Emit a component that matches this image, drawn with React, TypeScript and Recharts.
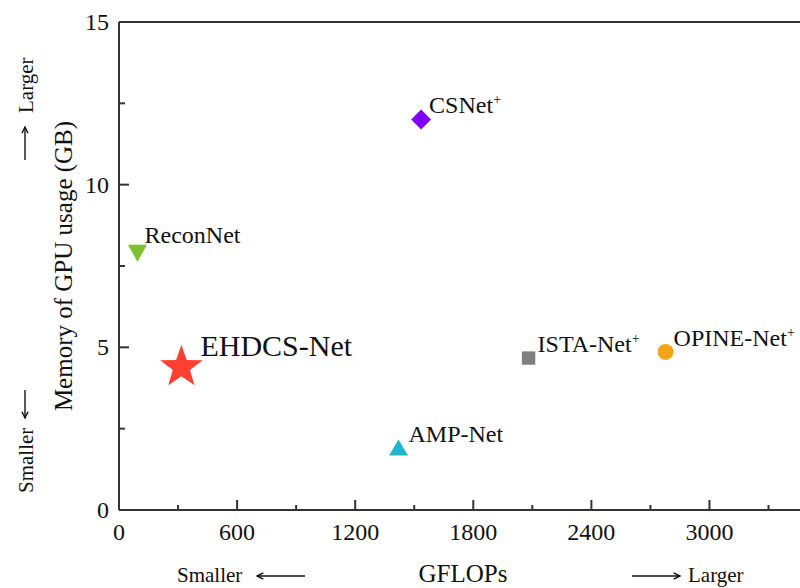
import { ScatterChart, Scatter, XAxis, YAxis, ReferenceLine, Customized } from "recharts"

// values
const models = ["ReconNet", "CSNet", "AMP-Net", "ISTA-Net", "OPINE-Net", "EHDCS-Net"]
const gflops = [94, 1535, 1420, 2081, 2777, 317]
const memoryGB = [7.89, 12.0, 1.92, 4.67, 4.86, 4.45]
const hasPlus = [false, true, false, true, true, false]

const xTicks = [0, 300, 600, 900, 1200, 1500, 1800, 2100, 2400, 2700, 3000, 3300]
const yTicks = [0, 2.5, 5, 7.5, 10, 12.5, 15]

const data = models.map((name, i) => ({ name, x: gflops[i], y: memoryGB[i], plus: hasPlus[i] }))

const FONT = "'Liberation Serif', 'Times New Roman', serif"
const AXIS = "#333"

// marker look + where the label sits relative to the marker
const markerStyle: Record<string, { kind: string; color: string; dx: number; dy: number; fs: number }> = {
  ReconNet: { kind: "triDown", color: "#7dc22e", dx: 7, dy: -10, fs: 24 },
  CSNet: { kind: "diamond", color: "#8000ff", dx: 8, dy: -7, fs: 24 },
  "AMP-Net": { kind: "triUp", color: "#1fb6cc", dx: 10, dy: -6, fs: 24 },
  "ISTA-Net": { kind: "square", color: "#808080", dx: 9, dy: -6, fs: 24 },
  "OPINE-Net": { kind: "circle", color: "#f5a418", dx: 8, dy: -6, fs: 24 },
  "EHDCS-Net": { kind: "star", color: "#ff4030", dx: 19, dy: -9, fs: 30 },
}

const starPath = (cx: number, cy: number, R: number, r: number) => {
  let d = ""
  for (let k = 0; k < 10; k++) {
    const rad = k % 2 === 0 ? R : r
    const a = -Math.PI / 2 + (k * Math.PI) / 5
    d += (k === 0 ? "M" : "L") + (cx + rad * Math.cos(a)).toFixed(2) + "," + (cy + rad * Math.sin(a)).toFixed(2)
  }
  return d + "Z"
}

const PointShape = (props: any) => {
  const { cx, cy, payload } = props
  const s = markerStyle[payload.name]
  let mark = null
  if (s.kind === "star") mark = <path d={starPath(cx, cy + 2, 22.4, 9)} fill={s.color} />
  else if (s.kind === "diamond") mark = <path d={`M${cx},${cy - 10}L${cx + 10},${cy}L${cx},${cy + 10}L${cx - 10},${cy}Z`} fill={s.color} />
  else if (s.kind === "triDown") mark = <path d={`M${cx - 9.5},${cy - 8.5}L${cx + 9.5},${cy - 8.5}L${cx},${cy + 8.5}Z`} fill={s.color} />
  else if (s.kind === "triUp") mark = <path d={`M${cx - 9.5},${cy + 8}L${cx + 9.5},${cy + 8}L${cx},${cy - 8}Z`} fill={s.color} />
  else if (s.kind === "square") mark = <rect x={cx - 6.7} y={cy - 6.7} width={13.4} height={13.4} fill={s.color} />
  else mark = <circle cx={cx} cy={cy} r={8} fill={s.color} />
  return (
    <g>
      {mark}
      <text x={cx + s.dx} y={cy + s.dy} fontFamily={FONT} fontSize={s.fs} fill="#111">
        {payload.name}
        {payload.plus && (
          <tspan dy={-9} fontSize={14}>
            +
          </tspan>
        )}
      </text>
    </g>
  )
}

const XTick = (props: any) => {
  const { x, y, payload } = props
  const major = payload.value % 600 === 0
  return (
    <g>
      <line x1={x} x2={x} y1={y} y2={y - (major ? 10 : 5)} stroke={AXIS} strokeWidth={2} />
      {major && (
        <text x={x} y={y + 30} textAnchor="middle" fontFamily={FONT} fontSize={24} fill="#111">
          {payload.value}
        </text>
      )}
    </g>
  )
}

const YTick = (props: any) => {
  const { x, y, payload } = props
  const major = payload.value % 5 === 0
  return (
    <g>
      <line x1={x} x2={x + (major ? 10 : 6)} y1={y} y2={y} stroke={AXIS} strokeWidth={2} />
      {major && (
        <text x={x - 10} y={y + 8} textAnchor="end" fontFamily={FONT} fontSize={24} fill="#111">
          {payload.value}
        </text>
      )}
    </g>
  )
}

// simple arrow from (x1,y1) to (x2,y2), head at the end
const Arrow = ({ x1, y1, x2, y2 }: { x1: number; y1: number; x2: number; y2: number }) => {
  const a = Math.atan2(y2 - y1, x2 - x1)
  const h = 7
  const p1 = [x2 - h * Math.cos(a - 0.45), y2 - h * Math.sin(a - 0.45)]
  const p2 = [x2 - h * Math.cos(a + 0.45), y2 - h * Math.sin(a + 0.45)]
  return (
    <g stroke="#111" strokeWidth={1.4} fill="none">
      <line x1={x1} y1={y1} x2={x2} y2={y2} />
      <path d={`M${p1[0]},${p1[1]}L${x2},${y2}L${p2[0]},${p2[1]}`} />
    </g>
  )
}

const Titles = () => (
  <g fontFamily={FONT} fill="#111">
    {/* y side */}
    <text x={72} y={266} transform="rotate(-90, 72, 266)" textAnchor="middle" fontSize={25}>
      Memory of GPU usage (GB)
    </text>
    <text x={33} y={113} transform="rotate(-90, 33, 113)" fontSize={21}>
      Larger
    </text>
    <Arrow x1={25} y1={160} x2={25} y2={127} />
    <text x={33} y={493} transform="rotate(-90, 33, 493)" fontSize={21}>
      Smaller
    </text>
    <Arrow x1={25} y1={390} x2={25} y2={418} />
    {/* x side */}
    <text x={463} y={582} textAnchor="middle" fontSize={25}>
      GFLOPs
    </text>
    <text x={177} y={582} fontSize={21}>
      Smaller
    </text>
    <Arrow x1={305} y1={576} x2={257} y2={576} />
    <Arrow x1={632} y1={576} x2={680} y2={576} />
    <text x={688} y={582} fontSize={21}>
      Larger
    </text>
  </g>
)

export default function App() {
  return (
    <div style={{ position: "absolute", left: 0, top: 0, width: 800, height: 588, background: "#fff" }}>
      <ScatterChart width={800} height={588} margin={{ top: 22, right: 0, bottom: 0, left: 0 }}>
        <XAxis
          type="number"
          dataKey="x"
          domain={[0, 3460]}
          ticks={xTicks}
          interval={0}
          height={78}
          tickSize={0}
          tickMargin={0}
          tickLine={false}
          axisLine={{ stroke: AXIS, strokeWidth: 2 }}
          tick={<XTick />}
        />
        <YAxis
          type="number"
          dataKey="y"
          domain={[0, 15]}
          ticks={yTicks}
          interval={0}
          width={119}
          tickSize={0}
          tickMargin={0}
          tickLine={false}
          axisLine={{ stroke: AXIS, strokeWidth: 2 }}
          tick={<YTick />}
        />
        <ReferenceLine y={15} stroke={AXIS} strokeWidth={2} />
        <Scatter data={data} shape={<PointShape />} isAnimationActive={false} />
        <Customized component={<Titles />} />
      </ScatterChart>
    </div>
  )
}
